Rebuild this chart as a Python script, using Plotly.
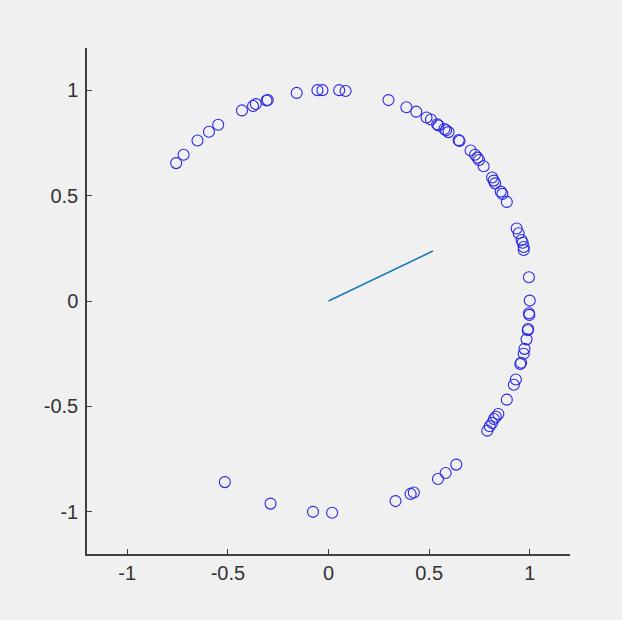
import plotly.graph_objects as go

# Scatter points
pts_x = [-0.757, -0.720, -0.651, -0.594, -0.548, -0.430, -0.375, -0.361, -0.308, -0.302,
         -0.158, -0.055, -0.030, 0.053, 0.085,
         0.298, 0.387, 0.436, 0.487, 0.509, 0.540, 0.546, 0.576, 0.584, 0.596,
         0.647, 0.651, 0.706, 0.728, 0.740, 0.748, 0.771, 0.813, 0.821, 0.828,
         0.856, 0.864, 0.886,
         0.935, 0.945, 0.959, 0.965, 0.970, 0.970, 0.996, 1.000, 0.996, 0.998,
         0.992, 0.990, 0.984, 0.974, 0.970, 0.957, 0.953, 0.931, 0.921, 0.886,
         0.844, 0.832, 0.822, 0.813, 0.801, 0.789,
         0.635, 0.582, 0.544, 0.424, 0.408, 0.333, 0.018, -0.077, -0.288, -0.515]
pts_y = [0.654, 0.694, 0.761, 0.803, 0.836, 0.904, 0.925, 0.934, 0.951, 0.953,
         0.987, 1.000, 1.000, 1.000, 0.996,
         0.953, 0.919, 0.898, 0.870, 0.861, 0.838, 0.833, 0.816, 0.810, 0.801,
         0.763, 0.759, 0.714, 0.694, 0.680, 0.669, 0.639, 0.586, 0.571, 0.558,
         0.519, 0.508, 0.470,
         0.344, 0.321, 0.289, 0.276, 0.256, 0.242, 0.113, 0.002, -0.058, -0.066,
         -0.133, -0.139, -0.182, -0.227, -0.250, -0.293, -0.299, -0.372, -0.397, -0.468,
         -0.536, -0.549, -0.560, -0.579, -0.594, -0.615,
         -0.776, -0.816, -0.844, -0.908, -0.915, -0.949, -1.004, -1.000, -0.961, -0.859]

# Mean vector line
line_x = [0.0, 0.519]
line_y = [0.0, 0.237]

tick_vals = [-1, -0.5, 0, 0.5, 1]
tick_text = ["-1", "-0.5", "0", "0.5", "1"]

bg = "#f0f0f0"
axis_col = "#404040"

fig = go.Figure()
fig.add_trace(go.Scatter(
    x=pts_x, y=pts_y, mode="markers",
    marker=dict(symbol="circle-open", size=11, color="rgb(40,40,230)",
                line=dict(width=1.1, color="rgb(40,40,230)")),
    hoverinfo="skip", showlegend=False))
fig.add_trace(go.Scatter(
    x=line_x, y=line_y, mode="lines",
    line=dict(color="#1a7ab8", width=1.6),
    hoverinfo="skip", showlegend=False))

axis_common = dict(
    showgrid=False, zeroline=False, showline=True, linecolor=axis_col, linewidth=1.5,
    ticks="inside", ticklen=5, tickwidth=1, tickcolor=axis_col,
    tickvals=tick_vals, ticktext=tick_text,
    tickfont=dict(family="Liberation Sans, Arial, sans-serif", size=20, color="#333333"),
)

fig.update_layout(
    width=622, height=620,
    margin=dict(l=87, r=52, t=48, b=66),
    paper_bgcolor=bg, plot_bgcolor=bg,
    xaxis=dict(range=[-1.2, 1.2], ticklabelstandoff=0, **axis_common),
    yaxis=dict(range=[-1.2, 1.2], ticklabelstandoff=3, **axis_common),
)

fig.write_html("out.html")
